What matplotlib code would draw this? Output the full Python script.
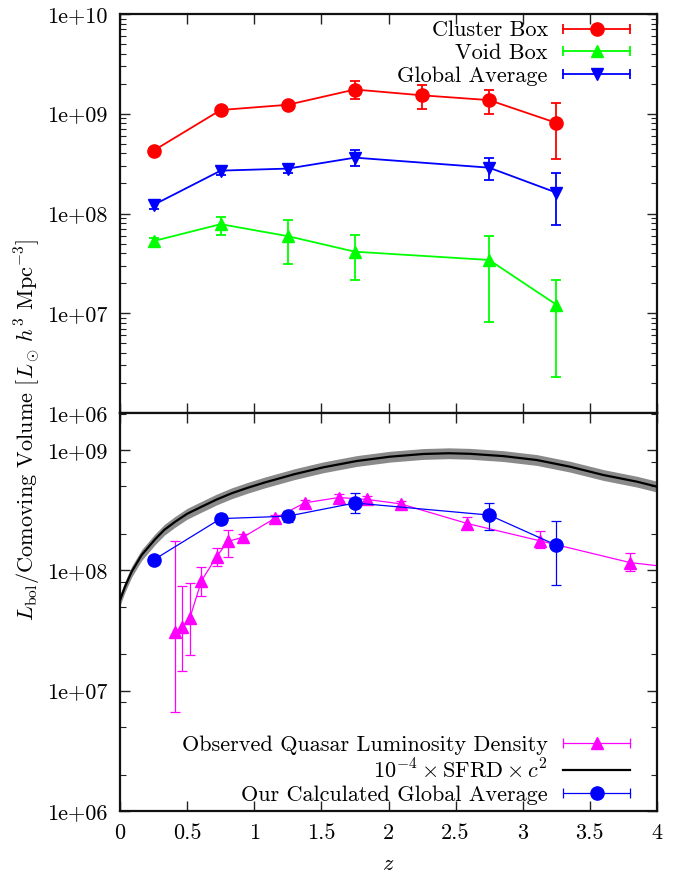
import numpy as np
import matplotlib
matplotlib.use("Agg")
import matplotlib.pyplot as plt
from matplotlib.lines import Line2D
from matplotlib.legend_handler import HandlerBase
from matplotlib.ticker import LogLocator, FixedLocator, NullFormatter, FuncFormatter

plt.rcParams['font.family'] = ['cmr10', 'DejaVu Serif']
plt.rcParams['mathtext.fontset'] = 'cm'
plt.rcParams['axes.formatter.use_mathtext'] = True
plt.rcParams['font.size'] = 16

# top panel: boxes
z_box = [0.25, 0.75, 1.25, 1.75, 2.25, 2.75, 3.25]
cluster = [4.27e8, 1.09e9, 1.23e9, 1.75e9, 1.53e9, 1.37e9, 8.1e8]
cluster_lo = [4.1e8, 1.04e9, 1.18e9, 1.39e9, 1.11e9, 1.0e9, 3.5e8]
cluster_hi = [4.45e8, 1.14e9, 1.29e9, 2.12e9, 1.96e9, 1.74e9, 1.28e9]

z_glob = [0.25, 0.75, 1.25, 1.75, 2.75, 3.25]
void = [5.29e7, 7.82e7, 5.93e7, 4.14e7, 3.42e7, 1.22e7]
void_lo = [4.64e7, 6.12e7, 3.14e7, 2.15e7, 8.26e6, 2.29e6]
void_hi = [5.67e7, 9.26e7, 8.58e7, 6.02e7, 5.93e7, 2.15e7]

glob = [1.22e8, 2.69e8, 2.82e8, 3.63e8, 2.88e8, 1.62e8]
glob_lo = [1.12e8, 2.45e8, 2.52e8, 3.0e8, 2.15e8, 7.6e7]
glob_hi = [1.32e8, 2.95e8, 3.11e8, 4.37e8, 3.63e8, 2.55e8]

# bottom panel: observed quasar luminosity density
qz = [0.41, 0.465, 0.52, 0.607, 0.72, 0.803, 0.915, 1.152, 1.377, 1.63, 1.842, 2.09, 2.587, 3.128, 3.80, 4.3]
qlum = [3.1e7, 3.37e7, 4.0e7, 8.2e7, 1.30e8, 1.74e8, 1.88e8, 2.70e8, 3.64e8, 4.03e8, 3.88e8, 3.57e8, 2.45e8, 1.76e8, 1.16e8, 1.0e8]
qlo = [6.6e6, 1.46e7, 1.99e7, 6.1e7, 1.09e8, 1.30e8, 1.75e8, 2.55e8, 3.45e8, 3.8e8, 3.65e8, 3.35e8, 2.23e8, 1.53e8, 9.9e7, 8.5e7]
qhi = [1.75e8, 7.46e7, 7.9e7, 1.06e8, 1.52e8, 2.16e8, 2.02e8, 2.86e8, 3.84e8, 4.27e8, 4.12e8, 3.80e8, 2.75e8, 2.13e8, 1.40e8, 1.2e8]

# 1e-4 x SFRD x c^2 curve
sfrd_z = [0, 0.037, 0.087, 0.161, 0.261, 0.33, 0.41, 0.5, 0.608, 0.72, 0.832, 0.95, 1.08, 1.30, 1.514, 1.763,
          2.011, 2.26, 2.45, 2.607, 2.855, 3.104, 3.352, 3.60, 3.849, 4.0]
sfrd = [5.66e7, 7.3e7, 9.75e7, 1.34e8, 1.81e8, 2.17e8, 2.53e8, 2.95e8, 3.38e8, 3.88e8, 4.37e8, 4.85e8, 5.38e8,
        6.3e8, 7.18e8, 8.1e8, 8.8e8, 9.27e8, 9.4e8, 9.3e8, 8.9e8, 8.26e8, 7.27e8, 6.2e8, 5.46e8, 4.96e8]
band_dex = 0.045


class CapHandler(HandlerBase):
    def create_artists(self, legend, orig, xdescent, ydescent, width, height, fontsize, trans):
        y = height / 2 - ydescent
        x0, x1 = -xdescent, width - xdescent
        c = orig.get_color()
        lw = orig.get_linewidth()
        arts = [Line2D([x0, x1], [y, y], color=c, lw=lw)]
        if orig.get_marker() not in (None, 'None', ''):
            arts.append(Line2D([x0, x1], [y, y], color=c, lw=0, marker='|',
                               markersize=7, markeredgewidth=lw))
            arts.append(Line2D([(x0 + x1) / 2], [y], color=c, lw=0, marker=orig.get_marker(),
                               markersize=orig.get_markersize()))
        for a in arts:
            a.set_transform(trans)
        return arts


def err(v, lo, hi):
    v = np.array(v)
    return [v - np.array(lo), np.array(hi) - v]


def fmt(v, pos):
    return "1e+%02d" % int(round(np.log10(v)))


fig = plt.figure(figsize=(6.86, 8.76), dpi=100)
ax1 = fig.add_axes([120 / 686, 1 - 413 / 876, 537 / 686, 399 / 876])
ax2 = fig.add_axes([120 / 686, 1 - 811 / 876, 537 / 686, 398 / 876])

leg_x = (630 - 120) / 537

kw = dict(capsize=3.5, elinewidth=1.3, capthick=1.3, lw=1.3)
ax1.errorbar(z_box, cluster, yerr=err(cluster, cluster_lo, cluster_hi), color='#ff0000',
             marker='o', ms=9.5, **kw)
ax1.errorbar(z_glob, void, yerr=err(void, void_lo, void_hi), color='#00ff00',
             marker='^', ms=8.5, **kw)
ax1.errorbar(z_glob, glob, yerr=err(glob, glob_lo, glob_hi), color='#0000ff',
             marker='v', ms=8.5, **kw)

h1 = [Line2D([], [], color='#ff0000', marker='o', ms=9.5, lw=1.3),
      Line2D([], [], color='#00ff00', marker='^', ms=8.5, lw=1.3),
      Line2D([], [], color='#0000ff', marker='v', ms=8.5, lw=1.3)]
ax1.legend(h1, ['Cluster Box', 'Void Box', 'Global Average'], loc='upper right',
           bbox_to_anchor=(leg_x, 0.983), frameon=False, markerfirst=False,
           handlelength=3.0, handletextpad=0.7, labelspacing=0.15, borderaxespad=0, borderpad=0,
           handler_map={Line2D: CapHandler()})

# bottom
lo_band = np.array(sfrd) / 10 ** band_dex
hi_band = np.array(sfrd) * 10 ** band_dex
ax2.fill_between(sfrd_z, lo_band, hi_band, color='#8a8a8a', lw=0, zorder=1)
ax2.errorbar(qz, qlum, yerr=err(qlum, qlo, qhi), color='#ff00ff', marker='^', ms=8.5,
             capsize=3.5, elinewidth=0.9, capthick=0.9, lw=0.9, zorder=2)
ax2.plot(sfrd_z, sfrd, color='black', lw=1.6, zorder=3)
ax2.errorbar(z_glob, glob, yerr=err(glob, glob_lo, glob_hi), color='#0000ff', marker='o', ms=9.5,
             capsize=3.5, elinewidth=0.9, capthick=0.9, lw=0.9, zorder=4)

h2 = [Line2D([], [], color='#ff00ff', marker='^', ms=8.5, lw=0.9),
      Line2D([], [], color='black', lw=1.6),
      Line2D([], [], color='#0000ff', marker='o', ms=9.5, lw=0.9)]
ax2.legend(h2, ['Observed Quasar Luminosity Density', r'$10^{-4}\times\mathrm{SFRD}\times c^2$',
                'Our Calculated Global Average'], loc='lower right',
           bbox_to_anchor=(leg_x, 0.015), frameon=False, markerfirst=False,
           handlelength=3.0, handletextpad=0.7, labelspacing=0.15, borderaxespad=0, borderpad=0,
           handler_map={Line2D: CapHandler()})

for ax in (ax1, ax2):
    ax.set_yscale('log')
    ax.set_xlim(0, 4)
    ax.xaxis.set_major_locator(FixedLocator(np.arange(0, 4.01, 0.5)))
    ax.yaxis.set_major_formatter(FuncFormatter(fmt))
    ax.yaxis.set_minor_formatter(NullFormatter())
    ax.tick_params(which='both', direction='in', top=True, right=True, color='#222222')
    ax.tick_params(which='major', length=7, width=1.0, pad=9)
    ax.tick_params(which='minor', length=4, width=0.8)
    for s in ax.spines.values():
        s.set_linewidth(1.6)
        s.set_color('#111111')

ax1.set_ylim(1e6, 1e10)
ax1.yaxis.set_major_locator(FixedLocator([1e6, 1e7, 1e8, 1e9, 1e10]))
ax1.yaxis.set_minor_locator(LogLocator(base=10, subs=np.arange(2, 10), numticks=20))
ax1.tick_params(axis='x', labelbottom=False)

ax2.set_ylim(1e6, 10 ** 9.3076)
ax2.yaxis.set_major_locator(FixedLocator([1e6, 1e7, 1e8, 1e9]))
ax2.yaxis.set_minor_locator(LogLocator(base=10, subs=[2, 5, 8], numticks=20))
ax2.xaxis.set_major_formatter(FuncFormatter(lambda v, p: ('%g' % v)))
ax2.set_xlabel('$z$', labelpad=8)

fig.text(28 / 686, 1 - 430 / 876,
         r'$L_{\rm bol}$/Comoving Volume [$L_\odot\,h^3$ Mpc$^{-3}$]',
         rotation=90, ha='center', va='center')

fig.savefig('out.png', dpi=100)
